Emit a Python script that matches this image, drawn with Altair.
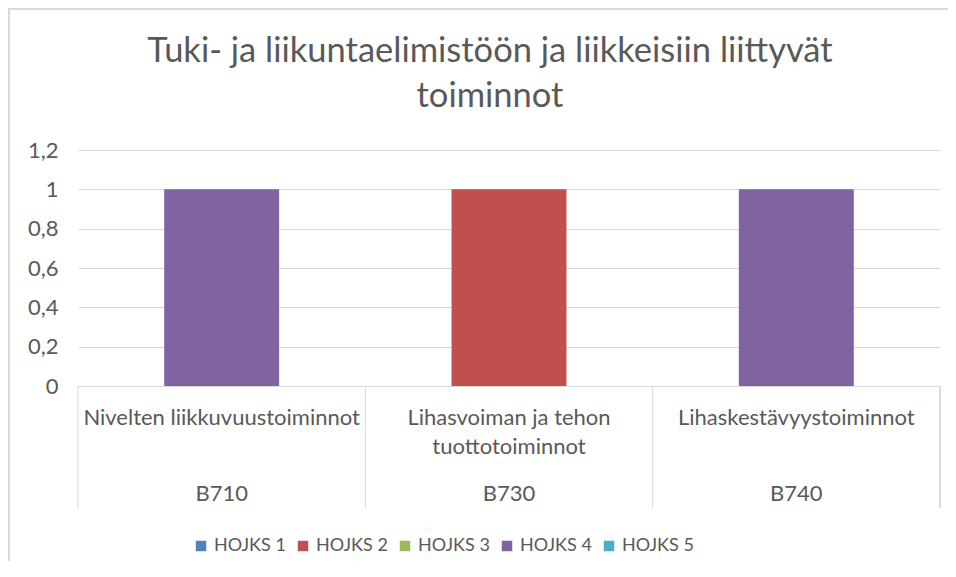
import altair as alt
import pandas as pd

# ---- data ----
codes = ["B710", "B730", "B740"]
names = ["Nivelten liikkuvuustoiminnot", "Lihasvoiman ja tehon\ntuottotoiminnot", "Lihaskestävyystoiminnot"]
series = ["HOJKS 1", "HOJKS 2", "HOJKS 3", "HOJKS 4", "HOJKS 5"]
hojks1 = [0, 0, 0]
hojks2 = [0, 1, 0]
hojks3 = [0, 0, 0]
hojks4 = [1, 0, 1]
hojks5 = [0, 0, 0]
colors = ["#4F81BD", "#C0504D", "#9BBB59", "#8064A2", "#4BACC6"]
y_ticks = [0, 0.2, 0.4, 0.6, 0.8, 1, 1.2]
title_text = "Tuki- ja liikuntaelimistöön ja liikkeisiin liittyvät\ntoiminnot"

rows = []
for s, vals in zip(series, [hojks1, hojks2, hojks3, hojks4, hojks5]):
    for c, v in zip(codes, vals):
        rows.append({"code": c, "series": s, "value": v, "order": series.index(s)})
df = pd.DataFrame(rows)
cat_df = pd.DataFrame({"code": codes, "name": names})
title_df = pd.DataFrame({"t": [title_text]})

W, H = 862, 236
FONT = "Lato"
GRAY = "#595959"
GRID = "#D9D9D9"

xscale = alt.Scale(domain=codes, paddingInner=0, paddingOuter=0)

bars = alt.Chart(df).mark_bar(width=alt.RelativeBandSize(0.4)).encode(
    x=alt.X("code:N", scale=xscale, axis=None, sort=codes),
    y=alt.Y("value:Q", stack="zero",
            scale=alt.Scale(domain=[0, 1.2], nice=False),
            axis=alt.Axis(values=y_ticks, title=None, grid=True, gridColor=GRID,
                          gridWidth=1, domain=False, ticks=False, labelPadding=20,
                          labelFont=FONT, labelFontSize=22, labelColor=GRAY,
                          labelExpr="replace(toString(datum.value), '.', ',')")),
    color=alt.Color("series:N", scale=alt.Scale(domain=series, range=colors),
                    legend=alt.Legend(orient="none", legendX=114, legendY=387,
                                      direction="horizontal", columns=5, title=None,
                                      symbolType="square", symbolSize=110,
                                      symbolStrokeWidth=0, labelFont=FONT,
                                      labelFontSize=18, labelColor=GRAY,
                                      labelOffset=4, columnPadding=8)),
    order=alt.Order("order:Q"),
)

seps = alt.Chart(cat_df).mark_rule(color=GRID, strokeWidth=1).encode(
    x=alt.X("code:N", scale=xscale, bandPosition=0, sort=codes),
    y=alt.value(H), y2=alt.value(H + 122),
)
sep_end = alt.Chart(cat_df).mark_rule(color=GRID, strokeWidth=1).encode(
    x=alt.value(W), y=alt.value(H), y2=alt.value(H + 122),
)

name_text = alt.Chart(cat_df).mark_text(
    font=FONT, fontSize=22, color=GRAY, baseline="alphabetic", align="center",
    lineBreak="\n", lineHeight=29,
).encode(
    x=alt.X("code:N", scale=xscale, bandPosition=0.5, sort=codes),
    y=alt.value(H + 39),
    text="name:N",
)
code_text = alt.Chart(cat_df).mark_text(
    font=FONT, fontSize=22, color=GRAY, baseline="alphabetic", align="center",
).encode(
    x=alt.X("code:N", scale=xscale, bandPosition=0.5, sort=codes),
    y=alt.value(H + 115),
    text="code:N",
)

title = alt.Chart(title_df).mark_text(
    font=FONT, fontSize=34.5, color=GRAY, baseline="alphabetic", align="center",
    lineBreak="\n", lineHeight=45,
).encode(
    x=alt.value(412), y=alt.value(-88), text="t:N",
)

border = alt.Chart(cat_df).mark_rect(fill=None, stroke=GRID, strokeWidth=2).encode(
    x=alt.value(-69), x2=alt.value(W + 200), y=alt.value(-141), y2=alt.value(H + 400),
)

chart = alt.layer(border, bars, seps, sep_end, name_text, code_text, title).properties(
    width=W, height=H,
    autosize=alt.AutoSizeParams(type="none"),
    padding={"left": 70, "top": 142, "right": 8, "bottom": 175},
).configure_view(stroke=None)

chart.save("out.html", embed_options={"renderer": "svg", "actions": False})
